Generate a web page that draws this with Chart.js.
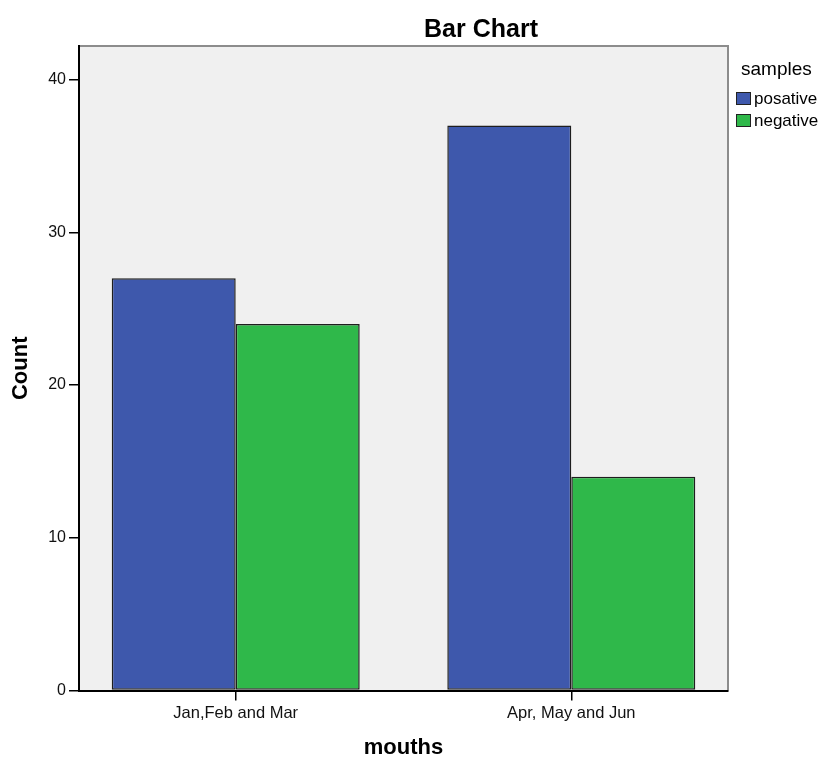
<!DOCTYPE html>
<html><head><meta charset="utf-8">
<script src="https://cdn.jsdelivr.net/npm/chart.js@4.4.1/dist/chart.umd.min.js"></script>
<style>
html,body{margin:0;padding:0;background:#fff;}
#wrap{position:relative;width:821px;height:761px;overflow:hidden;}
canvas{display:block;}
.lg{position:absolute;font-family:"Liberation Sans",Arial,sans-serif;color:#000;white-space:nowrap;}
.lgbox{position:absolute;box-sizing:border-box;border:1px solid #222;}
</style></head><body>
<div id="wrap"><canvas id="c" width="821" height="761"></canvas></div>
<script>
const categories = ['Jan,Feb and Mar', 'Apr, May and Jun'];
const seriesNames = ['posative', 'negative'];
const posativeCounts = [27, 37];
const negativeCounts = [24, 14];
const yTickValues = [0, 10, 20, 30, 40];
const chartTitle = 'Bar Chart';
const legendTitle = 'samples';
const xAxisTitle = 'mouths';
const yAxisTitle = 'Count';
const seriesColors = ['#3E58AC', '#2FB84A'];

const FONT = '"Liberation Sans", Arial, sans-serif';

const framePlugin = {
  id: 'frame',
  beforeDraw(chart) {
    const {ctx, chartArea: a} = chart;
    ctx.save();
    ctx.fillStyle = '#F0F0F0';
    ctx.fillRect(a.left, a.top, a.right - a.left, a.bottom - a.top);
    ctx.strokeStyle = '#8C8C8C';
    ctx.lineWidth = 2;
    ctx.beginPath();
    ctx.moveTo(a.left, a.top);
    ctx.lineTo(a.right, a.top);
    ctx.lineTo(a.right, a.bottom);
    ctx.stroke();
    ctx.fillStyle = '#000';
    ctx.font = 'bold 25px ' + FONT;
    ctx.textAlign = 'center';
    ctx.textBaseline = 'alphabetic';
    ctx.fillText(chartTitle, 481, 36.5);
    ctx.restore();
  }
};

const datasets = [posativeCounts, negativeCounts].map((vals, k) => ({
  label: seriesNames[k],
  data: vals.map((v, i) => ({x: i, y: v})),
  backgroundColor: seriesColors[k],
  borderColor: '#1E1E1E',
  borderWidth: 1.5,
  borderSkipped: false,
  categoryPercentage: 0.739,
  barPercentage: 1.0
}));

const chart = new Chart(document.getElementById('c'), {
  type: 'bar',
  data: { datasets },
  plugins: [framePlugin],
  options: {
    responsive: false,
    animation: false,
    devicePixelRatio: 1,
    layout: { padding: { top: 46, right: 93, left: 0, bottom: 0 } },
    plugins: { legend: { display: false }, title: { display: false }, tooltip: { enabled: false } },
    scales: {
      x: {
        type: 'linear',
        min: -0.467, max: 1.467,
        bounds: 'data',
        offset: false,
        afterBuildTicks: s => { s.ticks = categories.map((c, i) => ({ value: i })); },
        afterFit: s => { s.height = 70.5; },
        grid: { offset: false, drawOnChartArea: false, drawTicks: true, tickLength: 10, color: '#000', lineWidth: 1.5 },
        border: { display: true, color: '#000', width: 2 },
        ticks: { padding: 3, color: '#111', autoSkip: false, maxRotation: 0,
                 font: { family: FONT, size: 16.5 },
                 callback: v => categories[v] },
        title: { display: true, text: xAxisTitle, color: '#000',
                 font: { family: FONT, size: 22, weight: 'bold' }, padding: { top: 0, bottom: 0 } }
      },
      y: {
        min: 0, max: 42.2,
        afterBuildTicks: s => { s.ticks = yTickValues.map(v => ({ value: v })); },
        afterFit: s => { s.width = 79; },
        grid: { drawOnChartArea: false, drawTicks: true, tickLength: 10, color: '#000', lineWidth: 1.5 },
        border: { display: true, color: '#000', width: 2 },
        ticks: { padding: 3, color: '#111', font: { family: FONT, size: 16 } },
        title: { display: true, text: yAxisTitle, color: '#000',
                 font: { family: FONT, size: 22, weight: 'bold' }, padding: { top: 8, bottom: 0 } }
      }
    }
  }
});

// HTML legend built from the chart's datasets
(function buildLegend() {
  const wrap = document.getElementById('wrap');
  const t = document.createElement('div');
  t.className = 'lg';
  t.style.cssText = 'left:741px;top:59px;font-size:19px;line-height:19px;';
  t.textContent = legendTitle;
  wrap.appendChild(t);
  chart.data.datasets.forEach((ds, k) => {
    const box = document.createElement('div');
    box.className = 'lgbox';
    box.style.cssText = 'left:736px;top:' + (91.5 + k * 22.5) + 'px;width:15px;height:13px;background:' + ds.backgroundColor + ';';
    wrap.appendChild(box);
    const lab = document.createElement('div');
    lab.className = 'lg';
    lab.style.cssText = 'left:754px;top:' + (89.6 + k * 22.5) + 'px;font-size:17px;line-height:17px;';
    lab.textContent = ds.label;
    wrap.appendChild(lab);
  });
})();
</script>
</body></html>
